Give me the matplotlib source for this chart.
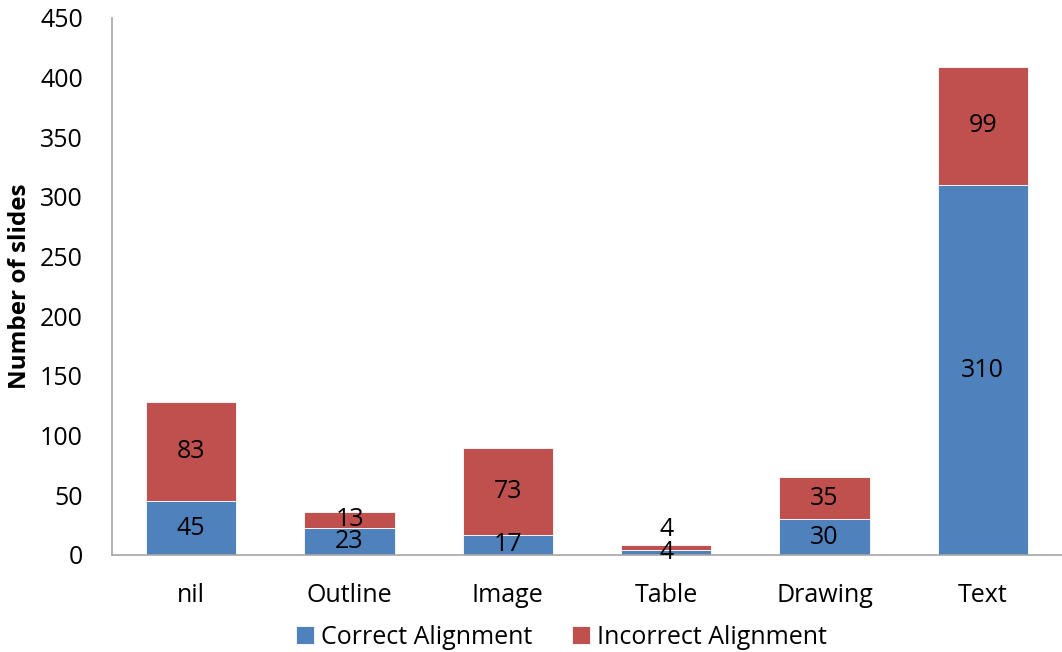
import matplotlib.pyplot as plt
import numpy as np

categories = ["nil", "Outline", "Image", "Table", "Drawing", "Text"]
correct = [45, 23, 17, 4, 30, 310]
incorrect = [83, 13, 73, 4, 35, 99]

blue = "#4F81BD"
red = "#C0504D"
axis_gray = "#A6A6A6"

plt.rcParams["font.family"] = ["Open Sans", "DejaVu Sans"]

fig = plt.figure(figsize=(10.62, 6.52), dpi=100)
ax = fig.add_axes([0.1055, 0.1488, 0.8945, 0.8236])

x = np.arange(len(categories))
width = 0.57
b1 = ax.bar(x, correct, width, color=blue, edgecolor="white", linewidth=0.6,
            label="Correct Alignment")
b2 = ax.bar(x, incorrect, width, bottom=correct, color=red, edgecolor="white",
            linewidth=0.6, label="Incorrect Alignment")

# value labels centred in each segment; a tiny top segment gets its label nudged up
for bars, vals, bottoms, is_top in ((b1, correct, [0] * len(correct), False),
                                    (b2, incorrect, correct, True)):
    for rect, v, b in zip(bars, vals, bottoms):
        dy = 13 if (is_top and v < 8) else 0
        ax.annotate(str(v), (rect.get_x() + rect.get_width() / 2, b + v / 2),
                    xytext=(0, dy), textcoords="offset points",
                    ha="center", va="center", fontsize=18, color="black")

ax.set_xlim(-0.5, len(categories) - 0.5)
ax.set_ylim(0, 450)
ax.set_yticks(range(0, 451, 50))
ax.set_xticks(x)
ax.set_xticklabels(categories)
ax.tick_params(axis="both", length=0, labelsize=18)
ax.tick_params(axis="x", pad=20)
ax.tick_params(axis="y", pad=21)

for side in ("top", "right"):
    ax.spines[side].set_visible(False)
for side in ("left", "bottom"):
    ax.spines[side].set_color(axis_gray)
    ax.spines[side].set_linewidth(1.2)

ax.set_ylabel("Number of slides", fontsize=17.5, fontweight="bold", labelpad=6)

fig.legend(handles=[b1, b2], loc="center", bbox_to_anchor=(0.529, 0.023),
           ncol=2, frameon=False, fontsize=18, handlelength=0.7,
           handleheight=0.7, handletextpad=0.3, columnspacing=1.6)

fig.savefig("out.png", dpi=100)
